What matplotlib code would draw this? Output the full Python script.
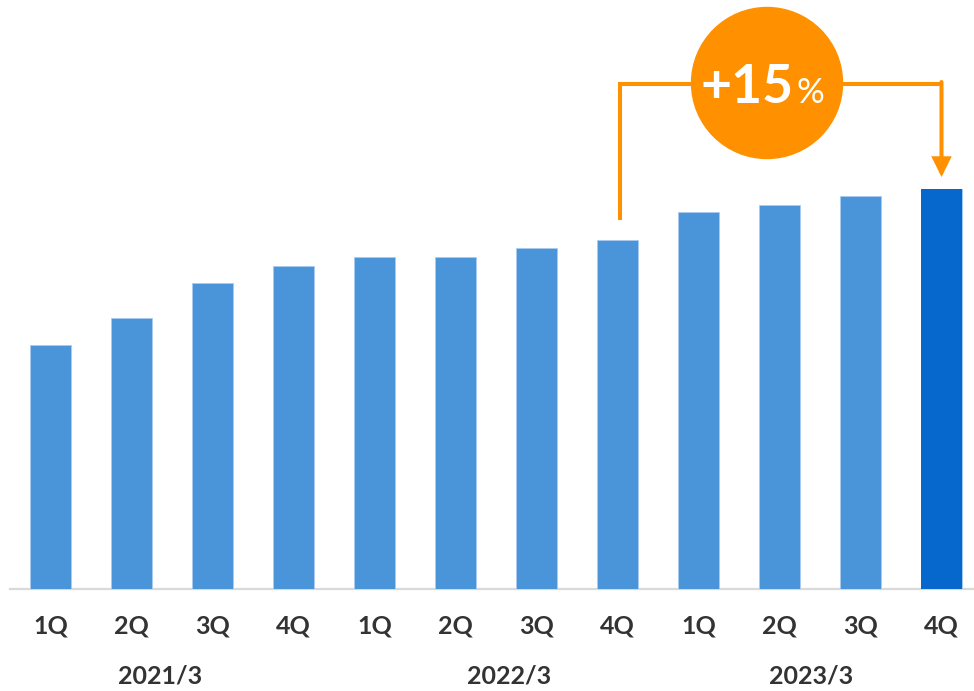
import matplotlib
matplotlib.use("Agg")
import matplotlib.pyplot as plt
from matplotlib.patches import Ellipse

# Quarterly values (arbitrary index units)
quarters = ["1Q", "2Q", "3Q", "4Q", "1Q", "2Q", "3Q", "4Q", "1Q", "2Q", "3Q", "4Q"]
values = [244, 271, 306, 323, 332, 332, 341, 349, 377, 384, 393, 400]
fiscal_years = ["2021/3", "2022/3", "2023/3"]
year_label_x = [1.35, 5.66, 9.39]
growth_label = "+15"

BLUE = "#4A94DA"
DARK_BLUE = "#0668CC"
ORANGE = "#FF9100"
TEXT = "#333333"
FONT = "Lato"

W, H = 974, 691
fig = plt.figure(figsize=(W / 100, H / 100), dpi=100)
base_px = 589
ax = fig.add_axes([10 / W, (H - base_px) / H, 972 / W, base_px / H])
ax.set_xlim(-0.5, 11.5)
ax.set_ylim(0, base_px)
ax.axis("off")

x = list(range(len(values)))
colors = [BLUE] * (len(values) - 1) + [DARK_BLUE]
ax.bar(x, values, width=0.5, color=colors, edgecolor="#A9CBEF", linewidth=0.6, zorder=2)
ax.bar(x[-1], values[-1], width=0.5, color=DARK_BLUE, linewidth=0, zorder=3)

# baseline
ax.plot([-0.5, 11.5], [0, 0], color="#D9D9D9", lw=1.6, zorder=1, clip_on=False)

# quarter labels
for xi, q in zip(x, quarters):
    ax.annotate(q, xy=(xi, 0), xycoords=("data", "axes fraction"),
                xytext=(0, -31.7), textcoords="offset points",
                ha="center", va="baseline", fontsize=18, fontweight="bold",
                color=TEXT, family=FONT, annotation_clip=False)

# fiscal year labels
for xp, fy in zip(year_label_x, fiscal_years):
    ax.annotate(fy, xy=(xp, 0), xycoords=("data", "axes fraction"),
                xytext=(0, -68.4), textcoords="offset points",
                ha="center", va="baseline", fontsize=18, fontweight="bold",
                color=TEXT, family=FONT, annotation_clip=False)

# growth bracket: from 4Q FY2022/3 to 4Q FY2023/3
i0, i1 = 7, 11
bracket_y = 505
lw = 2.9
ax.plot([i0 + 0.03, i0 + 0.03, i1], [values[i0] + 20, bracket_y, bracket_y], color=ORANGE, lw=lw,
        solid_joinstyle="miter", solid_capstyle="butt", zorder=4)
ax.annotate("", xy=(i1, values[i1] + 12), xytext=(i1, bracket_y + lw / 2 * 100 / 72),
            arrowprops=dict(arrowstyle="-|>,head_length=0.85,head_width=0.42",
                            mutation_scale=12, color=ORANGE, lw=lw,
                            shrinkA=0, shrinkB=0, joinstyle="miter"),
            zorder=4)

# badge
cx, cy = 8.846, 506
ax.add_patch(Ellipse((cx, cy), width=151 / 81.0, height=151, color=ORANGE, zorder=5))
ax.annotate(growth_label, xy=(cx, cy), xytext=(18.8, -14.4), textcoords="offset points",
            ha="right", va="baseline", fontsize=38.5, fontweight="bold",
            color="white", family=FONT, zorder=6)
ax.annotate("%", xy=(cx, cy), xytext=(21.4, -14.4), textcoords="offset points",
            ha="left", va="baseline", fontsize=25, fontweight="normal",
            color="white", family=FONT, zorder=6)

fig.savefig("out.png", dpi=100)
